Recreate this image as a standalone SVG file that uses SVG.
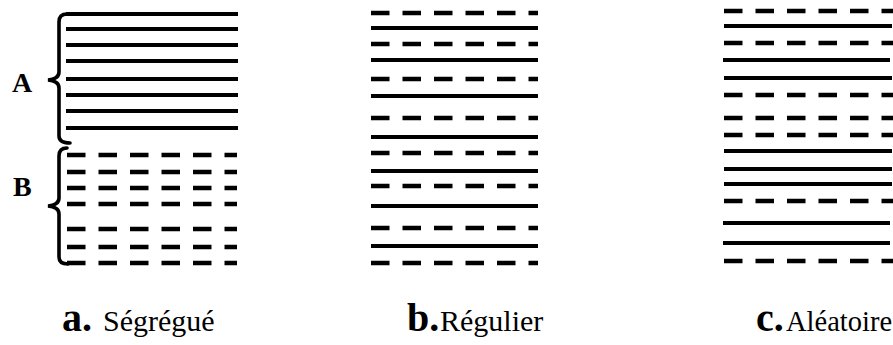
<svg xmlns="http://www.w3.org/2000/svg" width="893" height="345" viewBox="0 0 893 345">
<style>
.s{stroke:#000;stroke-width:4.2;fill:none}
.d{stroke:#000;stroke-width:4.6;fill:none;stroke-dasharray:18.5 13}
.br{stroke:#000;stroke-width:3.6;fill:none;stroke-linecap:round;stroke-linejoin:miter}
.lb{font-family:"Liberation Serif",serif;font-weight:bold;font-size:28px;fill:#000}
.cap{font-family:"Liberation Serif",serif;font-size:30px;fill:#000}
.k{font-family:"Liberation Serif",serif;font-weight:bold;font-size:40px;fill:#000}
</style>
<rect width="893" height="345" fill="#fff"/>
<g id="panel-a">
<g id="a-solid">
<line class="s" x1="66" y1="14" x2="238" y2="14"/>
<line class="s" x1="66" y1="29" x2="238" y2="29"/>
<line class="s" x1="66" y1="45" x2="238" y2="45"/>
<line class="s" x1="66" y1="61" x2="238" y2="61"/>
<line class="s" x1="66" y1="79" x2="238" y2="79"/>
<line class="s" x1="66" y1="95" x2="238" y2="95"/>
<line class="s" x1="66" y1="111" x2="238" y2="111"/>
<line class="s" x1="66" y1="128" x2="238" y2="128"/>
</g>
<g id="a-dashed">
<line class="d" x1="67" y1="155" x2="237" y2="155"/>
<line class="d" x1="67" y1="172" x2="237" y2="172"/>
<line class="d" x1="67" y1="188" x2="237" y2="188"/>
<line class="d" x1="67" y1="204" x2="237" y2="204"/>
<line class="d" x1="67" y1="229" x2="237" y2="229"/>
<line class="d" x1="67" y1="247" x2="237" y2="247"/>
<line class="d" x1="67" y1="263" x2="237" y2="263"/>
</g>
<path id="brace-A" class="br" d="M67,14 Q59,14 59,22 L59,72 Q59,79 48,80 Q59,81 59,88 L59,136 Q59,143 70,143"/>
<path id="brace-B" class="br" d="M67,148 Q59,148 59,156 L59,198 Q59,205 48,206 Q59,207 59,214 L59,257 Q59,264 68,264"/>
<text class="lb" x="12" y="92">A</text>
<text class="lb" x="13" y="196">B</text>
</g>
<g id="panel-b">
<line class="d" x1="371" y1="13" x2="538" y2="13"/>
<line class="s" x1="371" y1="28" x2="538" y2="28"/>
<line class="d" x1="371" y1="44" x2="538" y2="44"/>
<line class="s" x1="371" y1="60" x2="538" y2="60"/>
<line class="d" x1="371" y1="79" x2="538" y2="79"/>
<line class="s" x1="371" y1="96" x2="538" y2="96"/>
<line class="d" x1="371" y1="118" x2="538" y2="118"/>
<line class="s" x1="371" y1="137" x2="538" y2="137"/>
<line class="d" x1="371" y1="153" x2="538" y2="153"/>
<line class="s" x1="371" y1="171" x2="538" y2="171"/>
<line class="d" x1="371" y1="186" x2="538" y2="186"/>
<line class="s" x1="371" y1="206" x2="538" y2="206"/>
<line class="d" x1="371" y1="228" x2="538" y2="228"/>
<line class="s" x1="371" y1="246" x2="538" y2="246"/>
<line class="d" x1="371" y1="263" x2="538" y2="263"/>
</g>
<g id="panel-c">
<line class="d" x1="724" y1="11" x2="893" y2="11"/>
<line class="s" x1="724" y1="26" x2="892" y2="26"/>
<line class="d" x1="724" y1="43" x2="893" y2="43"/>
<line class="s" x1="723" y1="60" x2="890" y2="60"/>
<line class="s" x1="724" y1="78" x2="892" y2="78"/>
<line class="d" x1="724" y1="95" x2="893" y2="95"/>
<line class="d" x1="724" y1="118" x2="893" y2="118"/>
<line class="d" x1="724" y1="135" x2="893" y2="135"/>
<line class="s" x1="724" y1="151" x2="892" y2="151"/>
<line class="s" x1="724" y1="169" x2="892" y2="169"/>
<line class="s" x1="724" y1="184" x2="892" y2="184"/>
<line class="d" x1="724" y1="201" x2="893" y2="201"/>
<line class="s" x1="723" y1="223" x2="890" y2="223"/>
<line class="s" x1="723" y1="243" x2="890" y2="243"/>
<line class="d" x1="724" y1="261" x2="893" y2="261"/>
</g>
<g id="captions">
<text class="k" x="62" y="331">a.</text>
<text class="cap" x="103" y="331">Ségrégué</text>
<text class="k" x="407" y="331">b.</text>
<text class="cap" x="440" y="331">Régulier</text>
<text class="k" x="756" y="331">c.</text>
<text class="cap" x="786" y="331" style="font-size:28.5px">Aléatoire</text>
</g>
</svg>
